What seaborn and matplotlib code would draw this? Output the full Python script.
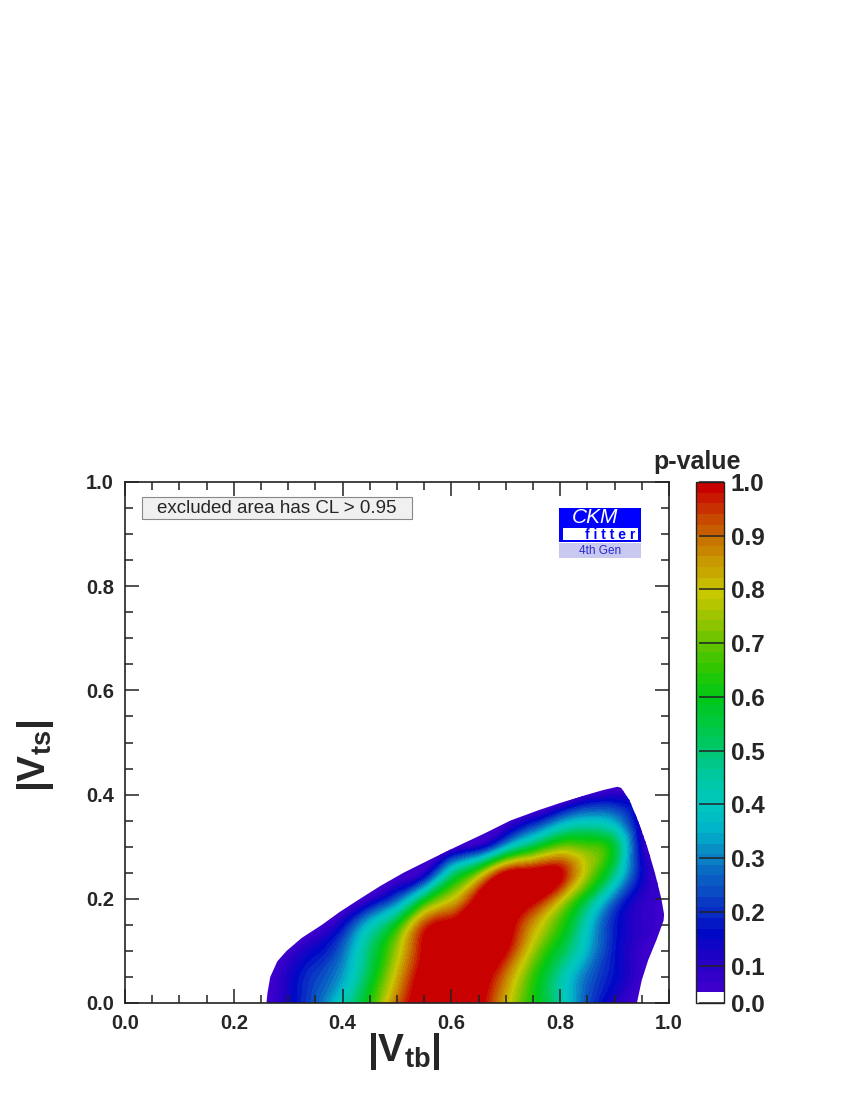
import numpy as np
import seaborn as sns
import matplotlib.pyplot as plt
import matplotlib.tri as mtri
from matplotlib.patches import Rectangle, Polygon
from matplotlib.ticker import MultipleLocator, FormatStrFormatter

vtb_grid = [0.20, 0.25, 0.30, 0.35, 0.40, 0.45, 0.50, 0.55, 0.60,
            0.65, 0.70, 0.75, 0.80, 0.85, 0.90, 0.95, 1.00]
vts_grid = [0.00, 0.05, 0.10, 0.15, 0.20, 0.25, 0.30, 0.35, 0.40, 0.45]

# p-value rows, one per |Vts| value (columns follow vtb_grid).
# values < 0.05 are the excluded area, values >= 1 the flat top (both clipped)
p_vts_000 = [-0.13, 0.02, 0.13, 0.25, 0.42, 0.62, 0.90, 1.06, 1.12, 1.02, 0.82, 0.62, 0.45, 0.24, 0.11, 0.03, -0.06]
p_vts_005 = [-0.15, 0.00, 0.12, 0.22, 0.33, 0.55, 0.82, 1.04, 1.12, 1.05, 0.88, 0.65, 0.45, 0.27, 0.16, 0.06, -0.02]
p_vts_010 = [-0.18, -0.06, 0.055, 0.15, 0.27, 0.50, 0.75, 1.00, 1.10, 1.10, 0.99, 0.75, 0.55, 0.35, 0.17, 0.07, 0.0]
p_vts_015 = [-0.45, -0.29, -0.13, 0.01, 0.15, 0.38, 0.60, 0.93, 1.02, 1.10, 1.04, 0.85, 0.65, 0.40, 0.18, 0.09, 0.04]
p_vts_020 = [-0.78, -0.60, -0.42, -0.23, -0.06, 0.08, 0.25, 0.55, 0.78, 1.02, 1.10, 1.02, 0.82, 0.55, 0.27, 0.10, 0.06]
p_vts_025 = [-0.91, -0.76, -0.61, -0.47, -0.30, -0.15, 0.014, 0.10, 0.45, 0.70, 0.99, 1.03, 1.00, 0.75, 0.48, 0.15, 0.06]
p_vts_030 = [-1.03, -0.91, -0.79, -0.65, -0.51, -0.38, -0.24, -0.11, 0.026, 0.12, 0.35, 0.55, 0.70, 0.68, 0.55, 0.12, 0.08]
p_vts_035 = [-1.27, -1.15, -1.03, -0.91, -0.79, -0.65, -0.51, -0.38, -0.24, -0.11, 0.026, 0.15, 0.30, 0.38, 0.33, 0.10, 0.05]
p_vts_040 = [-1.40, -1.30, -1.20, -1.10, -1.00, -0.86, -0.75, -0.65, -0.53, -0.41, -0.30, -0.18, -0.06, 0.06, 0.10, 0.08, 0.05]
p_vts_045 = [-1.80, -1.70, -1.60, -1.50, -1.38, -1.25, -1.12, -1.00, -0.90, -0.76, -0.62, -0.50, -0.38, -0.28, -0.20, -0.15, -0.15]

# outline of the allowed region (CL < 0.95)
cl95_vtb = [0.260, 0.262, 0.267, 0.280, 0.297, 0.325, 0.362, 0.395, 0.432, 0.470,
            0.512, 0.560, 0.609, 0.660, 0.708, 0.760, 0.800, 0.850, 0.880, 0.905,
            0.912, 0.927, 0.943, 0.960, 0.974, 0.986, 0.991, 0.990, 0.977, 0.962,
            0.950, 0.941]
cl95_vts = [0.000, 0.020, 0.050, 0.080, 0.100, 0.125, 0.150, 0.175, 0.200, 0.225,
            0.250, 0.275, 0.300, 0.325, 0.350, 0.370, 0.384, 0.400, 0.409, 0.415,
            0.413, 0.390, 0.350, 0.300, 0.250, 0.200, 0.170, 0.158, 0.121, 0.083,
            0.044, 0.000]

cbar_ticks = [0.0, 0.1, 0.2, 0.3, 0.4, 0.5, 0.6, 0.7, 0.8, 0.9, 1.0]

# palette anchors from 0.05 (purple) to 1.0 (red)
palette_anchors = ['#3c00cc', '#2200c4', '#0008c8', '#0a32c4', '#0a5ac4',
                   '#0a86c4', '#00b4c8', '#00c8c0', '#00c8a0', '#00c870',
                   '#00c840', '#00c818', '#28c800', '#60c400', '#98c400',
                   '#c8c800', '#c8a000', '#c87400', '#c84000', '#c80000']

sns.set_theme(style='ticks')
plt.rcParams['font.family'] = ['Liberation Sans', 'DejaVu Sans']
plt.rcParams['font.weight'] = 'bold'
plt.rcParams['mathtext.fontset'] = 'custom'
plt.rcParams['mathtext.bf'] = 'Liberation Sans:bold'
plt.rcParams['mathtext.rm'] = 'Liberation Sans:bold'
plt.rcParams['mathtext.it'] = 'Liberation Sans:bold'

P = np.array([p_vts_000, p_vts_005, p_vts_010, p_vts_015, p_vts_020,
              p_vts_025, p_vts_030, p_vts_035, p_vts_040, p_vts_045])
X, Y = np.meshgrid(vtb_grid, vts_grid)
nx, ny = len(vtb_grid), len(vts_grid)

# regular triangles (same diagonal everywhere) then smooth refinement
triangles = []
for j in range(ny - 1):
    for i in range(nx - 1):
        k = j * nx + i
        triangles.append([k, k + 1, k + nx + 1])
        triangles.append([k, k + nx + 1, k + nx])
tri = mtri.Triangulation(X.ravel(), Y.ravel(), triangles)
refiner = mtri.UniformTriRefiner(tri)
tri_f, p_f = refiner.refine_field(P.ravel(), subdiv=4)
p_f = np.clip(p_f, 0.051, 0.9999)

levels = [0.0] + list(np.linspace(0.05, 1.0, 49))
band_colors = ['white'] + sns.blend_palette(palette_anchors, n_colors=len(levels) - 2)

fig = plt.figure(figsize=(8.5, 11), dpi=100)
ax = fig.add_axes([125/850, 97/1100, 544/850, 521/1100])
cax = fig.add_axes([696/850, 97/1100, 28/850, 521/1100])

cs = ax.tricontourf(tri_f, p_f, levels=levels, colors=band_colors)
allowed = Polygon(np.column_stack([cl95_vtb, cl95_vts]), closed=True,
                  transform=ax.transData)
cs.set_clip_path(allowed)

ax.set_axisbelow(False)
ax.set_xlim(0, 1)
ax.set_ylim(0, 1)
for axis in (ax.xaxis, ax.yaxis):
    axis.set_major_locator(MultipleLocator(0.2))
    axis.set_minor_locator(MultipleLocator(0.05))
    axis.set_major_formatter(FormatStrFormatter('%.1f'))
ax.tick_params(which='both', direction='in', top=True, right=True, color='#222222')
ax.tick_params(which='major', length=10, width=1.1, labelsize=14.5, pad=8)
ax.tick_params(which='minor', length=6, width=1.1)
for sp in ax.spines.values():
    sp.set_linewidth(1.2)
    sp.set_color('#222222')

# CL box
ax.add_patch(Rectangle((0.031, 0.929), 0.497, 0.042, transform=ax.transAxes,
                       facecolor='#f0f0f0', edgecolor='#888888', lw=0.8))
ax.text(0.279, 0.950, 'excluded area has CL > 0.95', transform=ax.transAxes,
        ha='center', va='center', fontsize=13.5, fontweight='normal')

# CKMfitter logo
ax.add_patch(Rectangle((0.798, 0.8854), 0.151, 0.0641, transform=ax.transAxes,
                       facecolor='#0000ff', edgecolor='none'))
ax.add_patch(Rectangle((0.806, 0.889), 0.137, 0.022, transform=ax.transAxes,
                       facecolor='white', edgecolor='none'))
ax.add_patch(Rectangle((0.798, 0.8547), 0.151, 0.0276, transform=ax.transAxes,
                       facecolor='#c8c8f0', edgecolor='none'))
ax.text(0.864, 0.931, 'CKM', transform=ax.transAxes, ha='center', va='center',
        color='white', fontsize=15, fontstyle='italic', fontweight='normal')
ax.text(0.892, 0.899, 'f i t t e r', transform=ax.transAxes, ha='center',
        va='center', color='#0000ff', fontsize=10, fontweight='bold')
ax.text(0.873, 0.8685, '4th Gen', transform=ax.transAxes, ha='center',
        va='center', color='#2a2ad0', fontsize=8.5, fontweight='normal')

# axis titles
fig.text(404/850, 1 - 1052/1100, r'$\mathbf{|V_{tb}|}$', ha='center', va='center', fontsize=28)
fig.text(35/850, 1 - 756/1100, r'$\mathbf{|V_{ts}|}$', ha='center', va='center',
         fontsize=28, rotation=90)

# colour bar
cb = fig.colorbar(cs, cax=cax, ticks=cbar_ticks)
cb.outline.set_linewidth(1.0)
cb.outline.set_edgecolor('#222222')
cax.set_axisbelow(False)
cax.yaxis.set_major_formatter(FormatStrFormatter('%.1f'))
cax.tick_params(direction='in', length=18, width=1.1, labelsize=17.5, pad=5, color='#222222')
cax.minorticks_off()
fig.text(697/850, 1 - 462/1100, 'p-value', ha='center', va='center', fontsize=18)

fig.savefig('out.png', dpi=100)
